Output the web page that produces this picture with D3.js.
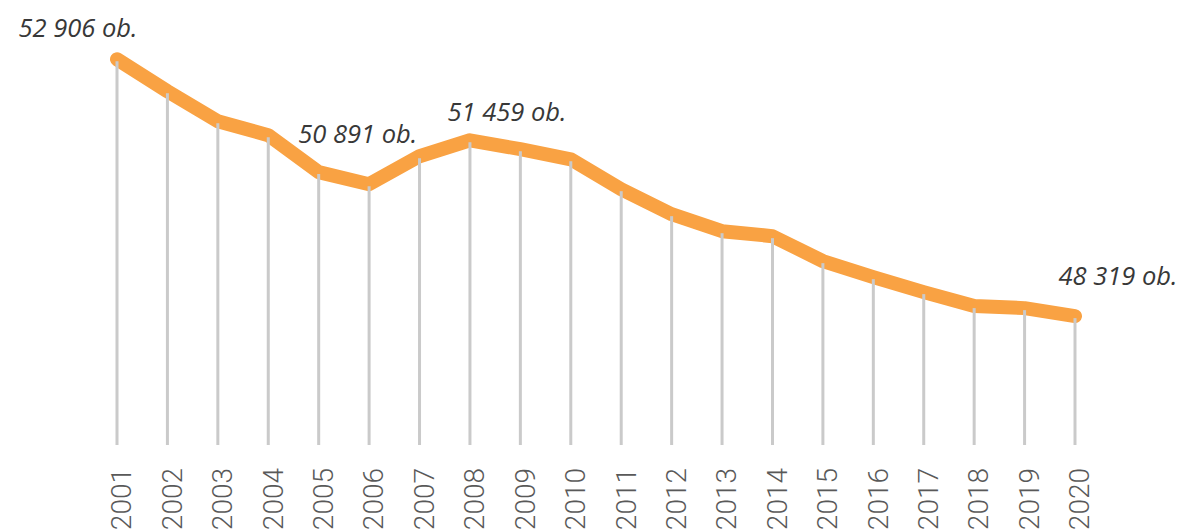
<!DOCTYPE html>
<html>
<head>
<meta charset="utf-8">
<script src="https://cdn.jsdelivr.net/npm/d3@7"></script>
<style>
  html, body { margin: 0; padding: 0; background: #ffffff; }
  svg { display: block; }
</style>
</head>
<body>
<svg id="chart" width="1183" height="530"></svg>
<script>
// Population by year
const years = [2001, 2002, 2003, 2004, 2005, 2006, 2007, 2008, 2009, 2010,
               2011, 2012, 2013, 2014, 2015, 2016, 2017, 2018, 2019, 2020];
const population = [52906, 52335, 51800, 51550, 50891, 50675, 51175, 51459, 51300, 51120,
                    50586, 50140, 49836, 49747, 49301, 49015, 48748, 48498, 48462, 48319];
// Years whose value is written next to the line
const labelledYears = [2001, 2005, 2008, 2020];

const svg = d3.select("#chart");

const x = d3.scalePoint().domain(years).range([117, 1075]);
const y = d3.scaleLinear().domain([46000, 53000]).range([446, 54]);

const data = years.map((yr, i) => ({ year: yr, value: population[i] }));

// thick orange line
const line = d3.line().x(d => x(d.year)).y(d => y(d.value));
svg.append("path")
  .datum(data)
  .attr("d", line)
  .attr("fill", "none")
  .attr("stroke", "#F9A243")
  .attr("stroke-width", 14)
  .attr("stroke-linejoin", "round")
  .attr("stroke-linecap", "round");

// vertical drop lines from each point down to the baseline
svg.append("g")
  .selectAll("line")
  .data(data)
  .join("line")
  .attr("x1", d => x(d.year))
  .attr("x2", d => x(d.year))
  .attr("y1", d => y(d.value) + 2)
  .attr("y2", y(46000) - 1)
  .attr("stroke", "#cacaca")
  .attr("stroke-width", 3);

// rotated year labels along the bottom
const xAxis = d3.axisBottom(x).tickSize(0).tickPadding(0);
const gx = svg.append("g")
  .attr("transform", "translate(0,468)")
  .call(xAxis);
gx.select(".domain").remove();
gx.selectAll(".tick text")
  .attr("transform", "translate(4,0) rotate(-90)")
  .attr("text-anchor", "end")
  .attr("x", 0)
  .attr("y", 0)
  .attr("dy", "0.35em")
  .attr("fill", "#595959")
  .style("font-family", "Roboto, 'Open Sans', sans-serif")
  .style("font-weight", 300)
  .style("font-size", "28px");

// value annotations
const locale = d3.formatLocale({ decimal: ",", thousands: " ", grouping: [3], currency: ["", ""] });
const fmt = locale.format(",d");
const offsets = {
  2001: [-39, -22],
  2005: [39, -29],
  2008: [37, -19],
  2020: [43, -31]
};
svg.append("g")
  .selectAll("text")
  .data(data.filter(d => labelledYears.includes(d.year)))
  .join("text")
  .attr("x", d => x(d.year) + offsets[d.year][0])
  .attr("y", d => y(d.value) + offsets[d.year][1])
  .attr("text-anchor", "middle")
  .attr("fill", "#383838")
  .style("font-family", "'Open Sans', 'Noto Sans', sans-serif")
  .style("font-style", "italic")
  .style("font-weight", 400)
  .style("font-size", "25.5px")
  .text(d => fmt(d.value) + " ob.");
</script>
</body>
</html>
